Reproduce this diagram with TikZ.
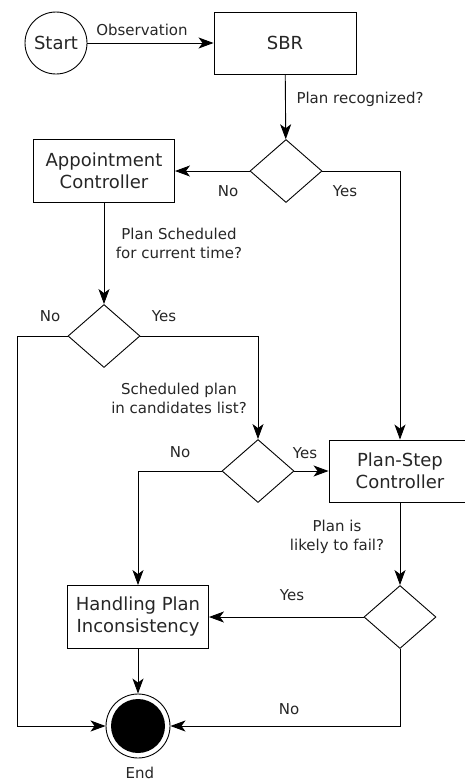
\documentclass[tikz,border=0pt]{standalone}
\usepackage{fontspec}
\setmainfont{DejaVu Sans}
\usetikzlibrary{shapes.geometric, arrows.meta}

\begin{document}
\begin{tikzpicture}[x=1pt, y=-1pt, >={Stealth[length=15pt, width=11pt, inset=4pt]},
    line width=0.9pt,
    box/.style={draw, rectangle, minimum width=142pt, minimum height=62pt, inner sep=0pt,
        align=center, font=\fontsize{18}{22}\selectfont, text=black!85},
    decide/.style={draw, diamond, minimum width=72pt, minimum height=63pt, inner sep=0pt},
    lbl/.style={align=center, font=\fontsize{15}{19}\selectfont, text=black!85}]
        \useasboundingbox (0,0) rectangle (464,782);

        % Start va SBR
        \node[draw, circle, minimum size=62pt, inner sep=0pt, font=\fontsize{18}{22}\selectfont, text=black!85] (start) at (56,43) {Start};
        \node[box] (sbr) at (285,43) {SBR};
        \node[lbl] (obs) at (142,30) {Observation};
        \draw[->] (start) -- (sbr);

        % Plan recognized?
        \node[decide] (d1) at (286,171) {};
        \node[lbl] (rec) at (360,99) {Plan recognized?};
        \draw[->] (sbr) -- (d1);
        \node[box, minimum width=141pt, minimum height=63pt] (appt) at (104,171) {Appointment\\Controller};
        \node[lbl] (no1) at (228,191) {No};
        \node[lbl] (yes1) at (345,191) {Yes};
        \draw[->] (d1) -- (appt);

        % Plan scheduled?
        \node[decide] (d2) at (104,336) {};
        \node[lbl] (sched) at (179,243) {Plan Scheduled\\for current time?};
        \draw[->] (appt) -- (d2);
        \node[lbl] (no2) at (50,316) {No};
        \node[lbl] (yes2) at (164,316) {Yes};

        % Candidates list?
        \node[decide] (d3) at (258,471) {};
        \node[lbl] (cand) at (179,398) {Scheduled plan\\in candidates list?};
        \draw[->] (d2.east) -| (d3.north);
        \node[box] (plan) at (400,471) {Plan-Step\\Controller};
        \node[lbl] (no3) at (180,452) {No};
        \node[lbl] (yes3) at (305,453) {Yes};
        \draw[->] (d3) -- (plan);
        \draw[->] (d1.east) -| (plan.north);

        % Likely to fail?
        \node[decide] (d4) at (400,617) {};
        \node[lbl] (fail) at (337,537) {Plan is\\likely to fail?};
        \draw[->] (plan) -- (d4);
        \node[box, minimum width=141pt, minimum height=63pt] (hand) at (138,617) {Handling Plan\\Inconsistency};
        \node[lbl] (yes4) at (292,595) {Yes};
        \draw[->] (d4) -- (hand);
        \draw[->] (d3.west) -| (hand.north);

        % End
        \node[draw, circle, minimum size=64pt, inner sep=0pt] (endn) at (138,726) {};
        \fill (endn.center) circle (27pt);
        \node[lbl] (endl) at (140,773) {End};
        \node[lbl] (no4) at (289,709) {No};
        \coordinate (lc) at (17,726);
        \draw[->] (hand) -- (endn);
        \draw[->] (d2.west) -| (lc) -- (endn.west);
        \draw[->] (d4.south) |- (endn.east);
    \end{tikzpicture}
\end{document}
